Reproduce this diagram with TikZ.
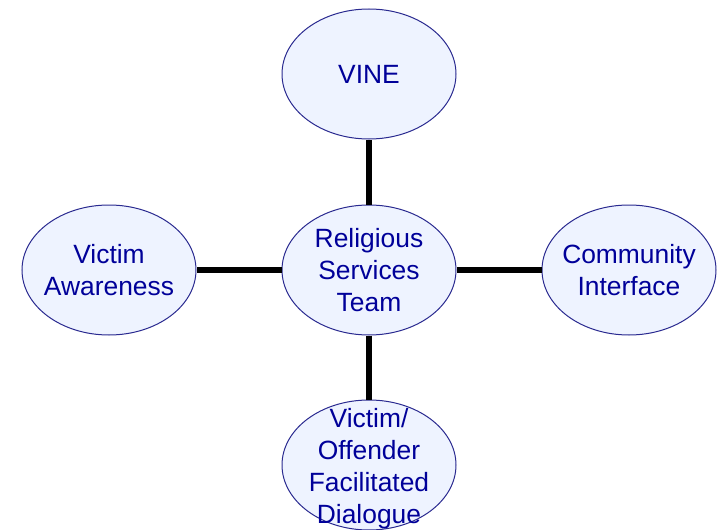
\documentclass[tikz,border=0pt]{standalone}
\usepackage{fontspec}
\setmainfont{Liberation Sans}
\usetikzlibrary{shapes.geometric}
\definecolor{bubblefill}{HTML}{EEF3FF}
\definecolor{bubbleline}{HTML}{2A2A90}
\definecolor{bubbletext}{HTML}{000099}
\tikzset{
  bubble/.style = {ellipse, draw = bubbleline, fill = bubblefill, line width = 0.5pt, inner sep = 0pt, minimum width = 87pt, minimum height = 65pt},
  bubbletxt/.style = {align = center, text = bubbletext, font = \fontsize{13.2}{16}\selectfont, inner sep = 0pt},
  link/.style = {draw = black, line width = 3pt}
}
\begin{document}
\begin{tikzpicture}[x = 0.5pt, y = -0.5pt]
\useasboundingbox (0,0) rectangle (719,530);
% bubbles
\node[bubble] (rst) at (369,270) {};
\node[bubble] (vine) at (369,74) {};
\node[bubble] (awareness) at (109,270) {};
\node[bubble] (community) at (629,270) {};
\node[bubble] (dialogue) at (369,465) {};
% links to the team
\foreach \n in {vine,awareness,community,dialogue} \draw [link] (rst) -- (\n);
% texts
\node[bubbletxt] at (rst) {Religious\\Services\\Team};
\node[bubbletxt] at (vine) {VINE};
\node[bubbletxt] at (awareness) {Victim\\Awareness};
\node[bubbletxt] at (community) {Community\\Interface};
\node[bubbletxt] at ([yshift = -2] dialogue) {Victim/\\Offender\\Facilitated\\Dialogue};
\end{tikzpicture}
\end{document}
